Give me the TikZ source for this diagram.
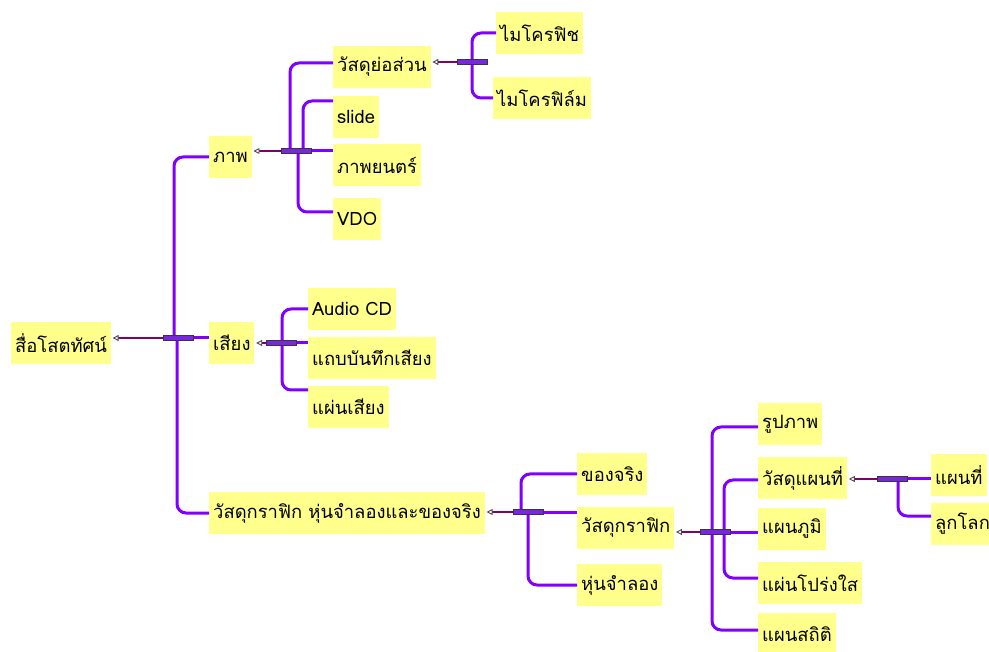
\documentclass[tikz,border=0pt]{standalone}
\usepackage{fontspec}
\setmainfont[Script=Thai]{Loma}
\usetikzlibrary{arrows.meta}
\definecolor{boxfill}{RGB}{255,255,140}
\definecolor{branchc}{RGB}{128,0,255}
\definecolor{linkc}{RGB}{128,0,110}
\definecolor{barfill}{RGB}{120,40,220}
\definecolor{barline}{RGB}{60,50,70}

\begin{document}
\begin{tikzpicture}[x=1pt,y=-1pt,
  topic/.style={fill=boxfill, anchor=west, minimum height=42pt, inner xsep=4pt, inner ysep=0pt,
                font=\fontsize{18.4}{21}\selectfont},
  branch/.style={draw=branchc, line width=3pt, rounded corners=9pt},
  link/.style={draw=linkc, line width=2.8pt,
               -{Triangle[open,length=6pt,width=6pt,line width=0.9pt,color=gray!60!black,fill=white]},
               shorten >=1.5pt},
  bar/.style={draw=barline, fill=barfill, line width=0.9pt, minimum width=30pt,
              minimum height=5pt, inner sep=0pt}]
\useasboundingbox (0,0) rectangle (989,652);

% topics
\node[topic] (root)       at (11,343)  {สื่อโสตทัศน์};
\node[topic] (phap)       at (209,157) {ภาพ};
\node[topic] (siang)      at (209,343) {เสียง};
\node[topic] (graphicall) at (209,513) {วัสดุกราฟิก หุ่นจำลองและของจริง};
\node[topic] (yoson)      at (333,67)  {วัสดุย่อส่วน};
\node[topic] (slide)      at (333,117) {slide};
\node[topic] (movie)      at (333,165) {ภาพยนตร์};
\node[topic] (vdo)        at (333,219) {VDO};
\node[topic] (fiche)      at (496,33)  {ไมโครฟิช};
\node[topic] (film)       at (493,98)  {ไมโครฟิล์ม};
\node[topic] (cd)         at (308,309) {Audio CD};
\node[topic] (tape)       at (308,358) {แถบบันทึกเสียง};
\node[topic] (disc)       at (308,407) {แผ่นเสียง};
\node[topic] (real)       at (577,474) {ของจริง};
\node[topic] (graphic)    at (577,528) {วัสดุกราฟิก};
\node[topic] (model)      at (577,585) {หุ่นจำลอง};
\node[topic] (picture)    at (758,424) {รูปภาพ};
\node[topic] (mapmat)     at (758,478) {วัสดุแผนที่};
\node[topic] (chart)      at (758,529) {แผนภูมิ};
\node[topic] (transp)     at (758,583) {แผ่นโปร่งใส};
\node[topic] (stat)       at (758,634) {แผนสถิติ};
\node[topic] (map)        at (931,475) {แผนที่};
\node[topic] (globe)      at (931,524) {ลูกโลก};

% junction bars
\coordinate (bRoot)  at (178,338);
\coordinate (bPhap)  at (296,151);
\coordinate (bYoson) at (472,62);
\coordinate (bSiang) at (281,343);
\coordinate (bAll)   at (528,512);
\coordinate (bGraph) at (715,532);
\coordinate (bMap)   at (892,479);

% branches to children
\draw[branch] ([xshift=-4pt]bRoot) |- (phap.west);
\draw[branch] (bRoot) -- (siang.west |- bRoot);
\draw[branch] ([xshift=-1pt]bRoot) |- (graphicall.west);

\draw[branch] ([xshift=-6pt]bPhap) |- ([yshift=4pt]yoson.west);
\draw[branch] ([xshift=7pt]bPhap) |- ([yshift=16pt]slide.west);
\draw[branch] (bPhap) -- (movie.west |- bPhap);
\draw[branch] ([xshift=2pt]bPhap) |- ([yshift=7pt]vdo.west);

\draw[branch] (bYoson) |- (fiche.west);
\draw[branch] (bYoson) |- (film.west);

\draw[branch] ([xshift=1pt]bSiang) |- (cd.west);
\draw[branch] (bSiang) -- (tape.west |- bSiang);
\draw[branch] ([xshift=1pt]bSiang) |- ([yshift=17pt]disc.west);

\draw[branch] ([xshift=-7pt]bAll) |- (real.west);
\draw[branch] (bAll) -- (graphic.west |- bAll);
\draw[branch] (bAll) |- (model.west);

\draw[branch] ([xshift=-3pt]bGraph) |- ([yshift=-3pt]picture.west);
\draw[branch] ([xshift=9pt]bGraph) |- ([yshift=-2pt]mapmat.west);
\draw[branch] (bGraph) -- (chart.west |- bGraph);
\draw[branch] ([xshift=9pt]bGraph) |- ([yshift=5pt]transp.west);
\draw[branch] ([xshift=-3pt]bGraph) |- ([yshift=4pt]stat.west);

\draw[branch] (bMap) -- (map.west |- bMap);
\draw[branch] ([xshift=6pt]bMap) |- ([yshift=8pt]globe.west);

% links back to parents
\draw[link] (bRoot)  -- (root.east |- bRoot);
\draw[link] (bPhap)  -- (phap.east |- bPhap);
\draw[link] (bYoson) -- (yoson.east |- bYoson);
\draw[link] (bSiang) -- (siang.east |- bSiang);
\draw[link] (bAll)   -- (graphicall.east |- bAll);
\draw[link] (bGraph) -- (graphic.east |- bGraph);
\draw[link] (bMap)   -- (mapmat.east |- bMap);

% bars on top
\foreach \b in {bRoot,bPhap,bYoson,bSiang,bAll,bGraph,bMap}
  \node[bar] at (\b) {};
\end{tikzpicture}
\end{document}
